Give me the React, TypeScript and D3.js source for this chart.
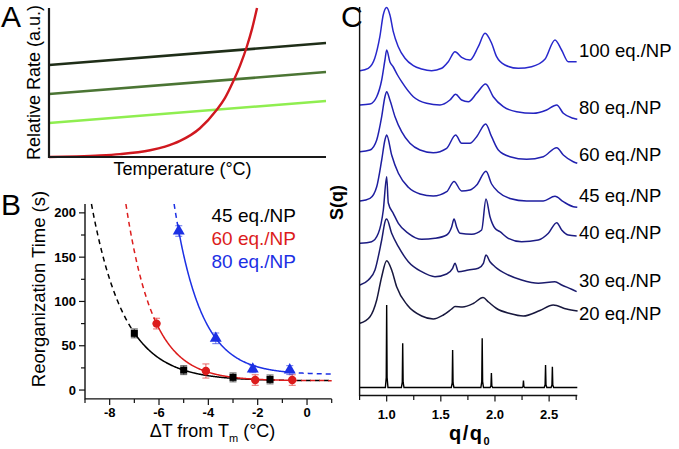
import React from 'react';
import * as d3 from 'd3';

const FONT = "Arial, 'Liberation Sans', Helvetica, sans-serif";

// ---------- Panel A (schematic) ----------
const rateLineStart = [6.17, 4.23, 2.28];
const rateLineEnd = [7.65, 5.7, 3.76];
const rateLineColors = ['#1f2e18', '#4b7534', '#8fee50'];
const redCurveT = [0, 1, 1.84, 2.56, 3.65, 4.19, 4.73, 5.45, 6.05, 6.35, 6.64, 6.9, 7.14, 7.33, 7.51];
const redCurveRate = [0, 0.04, 0.1, 0.19, 0.45, 0.7, 1.08, 1.93, 3.15, 3.95, 5.03, 6.15, 7.4, 8.6, 10];

// ---------- Panel B ----------
const bLabels = ['45 eq./NP', '60 eq./NP', '80 eq./NP'];
const bColors = ['#000000', '#dc1c1c', '#1c30e4'];
const bX = [
  [-7, -5, -3, -1.5],
  [-6.1, -4.1, -2.1, -0.6],
  [-5.2, -3.7, -2.2, -0.7],
];
const bY = [
  [64, 22.5, 14.3, 12],
  [75, 21.5, 11.3, 11.3],
  [179.5, 58.4, 23.7, 22.6],
];
const bErr = [
  [5, 5, 5, 5],
  [6, 8, 6, 6],
  [6, 6, 4, 5],
];
// exponential-decay fit parameters: y = offset + amp * exp(-(x - x0) / tau)
const fitOffset = [10.5, 10.5, 17.5];
const fitAmp = [54, 64.5, 162];
const fitX0 = [-7, -6.1, -5.2];
const fitTau = [1.33, 1.1, 1.09];
const fitSolidStart = [-7, -6.1, -5.2];
const fitSolidEnd = [-1.5, -0.6, -0.7];
const bXTicks = [-9, -8, -7, -6, -5, -4, -3, -2, -1, 0, 1];
const bXLabels = [-8, -6, -4, -2, 0];
const bYTicks = [0, 25, 50, 75, 100, 125, 150, 175, 200];
const bYLabels = [0, 50, 100, 150, 200];

// ---------- Panel C ----------
const cLabels = ['100 eq./NP', '80 eq./NP', '60 eq./NP', '45 eq./NP', '40 eq./NP', '30 eq./NP', '20 eq./NP'];
const cColors = ['#2828cc', '#2424c0', '#2121b0', '#1e1ea0', '#1c1c84', '#1b1b6c', '#18183e'];
const curve100: [number, number][] = [[0.753, 32.63], [0.83, 32.87], [0.89, 33.87], [0.937, 36.03], [0.968, 38.2], [1.0, 38.95], [1.03, 38.2], [1.061, 36.53], [1.107, 35.03], [1.169, 33.87], [1.246, 33.13], [1.323, 32.8], [1.415, 32.63], [1.508, 32.87], [1.569, 33.53], [1.631, 34.53], [1.692, 33.97], [1.769, 33.7], [1.846, 35.03], [1.908, 36.37], [1.969, 35.37], [2.015, 34.03], [2.092, 33.2], [2.215, 32.87], [2.338, 33.03], [2.461, 33.77], [2.554, 35.7], [2.615, 34.7], [2.677, 33.53], [2.754, 33.53]];
const curve80: [number, number][] = [[0.753, 29.2], [0.846, 29.3], [0.908, 30.03], [0.954, 31.7], [0.984, 33.7], [1.0, 34.7], [1.03, 33.5], [1.061, 33.0], [1.1, 32.2], [1.138, 31.53], [1.246, 30.03], [1.369, 29.37], [1.492, 29.2], [1.584, 29.7], [1.637, 30.27], [1.692, 29.7], [1.754, 29.53], [1.831, 30.37], [1.914, 31.3], [1.984, 30.03], [2.077, 29.03], [2.2, 28.53], [2.354, 28.37], [2.477, 28.7], [2.57, 29.2], [2.631, 28.37], [2.723, 27.87], [2.76, 27.77]];
const curve60: [number, number][] = [[0.753, 24.53], [0.846, 24.7], [0.908, 25.7], [0.954, 28.03], [0.984, 30.03], [1.0, 30.53], [1.03, 29.7], [1.077, 28.03], [1.138, 26.53], [1.215, 25.37], [1.308, 24.7], [1.43, 24.43], [1.554, 24.87], [1.637, 26.2], [1.692, 25.37], [1.769, 25.37], [1.831, 26.03], [1.914, 27.3], [1.969, 26.03], [2.031, 24.7], [2.138, 24.03], [2.292, 23.77], [2.446, 24.03], [2.57, 24.93], [2.631, 24.2], [2.723, 23.53], [2.76, 23.37]];
const curve45: [number, number][] = [[0.753, 19.6], [0.846, 19.87], [0.908, 21.03], [0.954, 23.7], [0.984, 25.7], [1.0, 26.2], [1.046, 24.2], [1.108, 22.37], [1.2, 20.97], [1.308, 20.3], [1.43, 20.1], [1.554, 20.53], [1.622, 21.55], [1.692, 20.6], [1.769, 20.7], [1.831, 21.2], [1.917, 22.58], [1.969, 21.3], [2.031, 20.5], [2.138, 19.85], [2.292, 19.6], [2.446, 19.6], [2.554, 20.07], [2.631, 19.53], [2.723, 19.03], [2.76, 18.97]];
const curve40: [number, number][] = [[0.753, 15.37], [0.861, 15.53], [0.923, 16.37], [0.969, 18.7], [1.0, 22.03], [1.015, 19.4], [1.061, 18.37], [1.108, 17.37], [1.2, 16.37], [1.323, 15.77], [1.446, 15.87], [1.554, 16.2], [1.6, 17.0], [1.622, 17.8], [1.646, 17.0], [1.677, 16.37], [1.785, 16.27], [1.877, 16.7], [1.917, 19.8], [1.954, 18.03], [2.0, 16.87], [2.046, 16.53], [2.123, 15.87], [2.246, 15.53], [2.4, 15.7], [2.493, 16.37], [2.57, 17.43], [2.616, 16.7], [2.677, 16.2], [2.754, 16.1]];
const curve30: [number, number][] = [[0.753, 11.2], [0.831, 11.7], [0.892, 12.7], [0.954, 15.7], [0.99, 17.7], [1.0, 17.8], [1.046, 16.37], [1.108, 15.03], [1.2, 13.53], [1.323, 12.53], [1.446, 12.03], [1.554, 12.3], [1.609, 12.87], [1.631, 13.37], [1.662, 12.53], [1.754, 12.7], [1.846, 12.87], [1.893, 13.37], [1.917, 14.2], [1.954, 13.53], [2.0, 13.03], [2.123, 12.2], [2.246, 11.7], [2.4, 11.37], [2.554, 11.53], [2.616, 11.2], [2.708, 10.77], [2.754, 10.53]];
const curve20: [number, number][] = [[0.753, 7.37], [0.846, 8.03], [0.908, 9.7], [0.954, 12.03], [1.0, 13.63], [1.046, 12.7], [1.092, 11.03], [1.19, 9.2], [1.323, 8.1], [1.43, 7.8], [1.523, 8.2], [1.6, 8.8], [1.631, 9.05], [1.7, 9.0], [1.8, 9.35], [1.89, 9.95], [1.94, 9.5], [2.015, 8.85], [2.138, 8.35], [2.261, 8.1], [2.415, 8.65], [2.538, 9.2], [2.661, 8.8], [2.763, 8.6]];
const cCurves = [curve100, curve80, curve60, curve45, curve40, curve30, curve20];
const stickBase = 0.95;
const stickQ = [1.0, 1.148, 1.609, 1.882, 1.967, 2.263, 2.467, 2.53];
const stickH = [8.25, 4.42, 3.75, 4.92, 1.45, 0.7, 2.25, 2.08];
const cXTicks = [0.75, 1.0, 1.25, 1.5, 1.75, 2.0, 2.25, 2.5, 2.75];
const cXLabels = ['1.0', '1.5', '2.0', '2.5'];

export default function App() {
  // Panel A scales
  const xA = d3.scaleLinear().domain([0, 10]).range([49, 326]);
  const yA = d3.scaleLinear().domain([0, 10]).range([157, 8]);
  const redLine = d3
    .line<number>()
    .x((_, i) => xA(redCurveT[i]))
    .y((d) => yA(d))
    .curve(d3.curveMonotoneX);

  // Panel B scales
  const xB = d3.scaleLinear().domain([-9, 1]).range([85, 331.7]);
  const yB = d3.scaleLinear().domain([-10, 210]).range([398.9, 204]);
  const lineB = d3
    .line<[number, number]>()
    .x((d) => xB(d[0]))
    .y((d) => yB(d[1]));
  const fitY = (i: number, x: number) => fitOffset[i] + fitAmp[i] * Math.exp(-(x - fitX0[i]) / fitTau[i]);
  const seg = (i: number, a: number, b: number): [number, number][] => {
    const xs = d3.range(a, b, 0.02).concat([b]);
    return xs.map((x) => [x, fitY(i, x)] as [number, number]);
  };

  // Panel C scales
  const xC = d3.scaleLinear().domain([0.75, 2.75]).range([359.6, 576.2]);
  const yC = d3.scaleLinear().domain([0, 39]).range([397, 7]);
  const lineC = d3
    .line<[number, number]>()
    .x((d) => xC(d[0]))
    .y((d) => yC(d[1]))
    .curve(d3.curveMonotoneX);
  const stickPts: [number, number][] = [[0.753, stickBase]];
  stickQ.forEach((q, i) => {
    const h = stickH[i];
    stickPts.push([q - 0.012, stickBase]);
    stickPts.push([q - 0.004, stickBase + 0.12 * h]);
    stickPts.push([q, stickBase + h]);
    stickPts.push([q + 0.004, stickBase + 0.12 * h]);
    stickPts.push([q + 0.012, stickBase]);
  });
  stickPts.push([2.76, stickBase]);
  const stickLine = d3
    .line<[number, number]>()
    .x((d) => xC(d[0]))
    .y((d) => yC(d[1]));
  const cAxisY = yC(0.15);

  const labelBaselines = [56.5, 114, 161, 201.5, 239, 287, 320];

  const symbolFor = (i: number) => {
    if (i === 0) return d3.symbol(d3.symbolSquare, 50)();
    if (i === 1) return d3.symbol(d3.symbolCircle, 55)();
    return d3.symbol(d3.symbolTriangle, 62)();
  };

  return (
    <svg
      width={679}
      height={449}
      style={{ position: 'absolute', left: 0, top: 0, background: '#fff' }}
      fontFamily={FONT}
    >
      <rect x={0} y={0} width={679} height={449} fill="#fff" />

      {/* ---------------- Panel A ---------------- */}
      <text x={1} y={26.5} fontSize={30} fill="#000">A</text>
      {rateLineStart.map((s, i) => (
        <line
          key={i}
          x1={xA(0)}
          y1={yA(s)}
          x2={xA(10)}
          y2={yA(rateLineEnd[i])}
          stroke={rateLineColors[i]}
          strokeWidth={2.6}
        />
      ))}
      <path d={redLine(redCurveRate) || ''} fill="none" stroke="#d0181f" strokeWidth={2.4} />
      <path d={`M${xA(0)},${yA(10)}V${yA(0)}H${xA(10)}`} fill="none" stroke="#1a1a1a" strokeWidth={2.2} />
      <text x={182.5} y={175} fontSize={18} textAnchor="middle" fill="#000">Temperature (°C)</text>
      <text transform="translate(40,82.5) rotate(-90)" fontSize={18} textAnchor="middle" fill="#000">
        Relative Rate (a.u.)
      </text>

      {/* ---------------- Panel B ---------------- */}
      <text x={1} y={215} fontSize={30} fill="#000">B</text>
      {/* fits */}
      {bLabels.map((_, i) => {
        const xTop = fitX0[i] - fitTau[i] * Math.log((210 - fitOffset[i]) / fitAmp[i]);
        return (
          <g key={i} fill="none" stroke={bColors[i]} strokeWidth={1.5}>
            <path d={lineB(seg(i, xTop, fitSolidStart[i])) || ''} strokeDasharray="5,4" />
            <path d={lineB(seg(i, fitSolidStart[i], fitSolidEnd[i])) || ''} />
            <path d={lineB(seg(i, fitSolidEnd[i], 1)) || ''} strokeDasharray="5,4" />
          </g>
        );
      })}
      {/* error bars + markers */}
      {bLabels.map((_, i) => (
        <g key={i}>
          {bX[i].map((x, j) => {
            const cx = xB(x);
            const y1 = yB(bY[i][j] - bErr[i][j]);
            const y2 = yB(bY[i][j] + bErr[i][j]);
            return (
              <g key={j} stroke={bColors[i]} strokeOpacity={0.55} strokeWidth={1.2}>
                <line x1={cx} x2={cx} y1={y1} y2={y2} />
                <line x1={cx - 3.5} x2={cx + 3.5} y1={y1} y2={y1} />
                <line x1={cx - 3.5} x2={cx + 3.5} y1={y2} y2={y2} />
              </g>
            );
          })}
          {bX[i].map((x, j) => (
            <path
              key={'m' + j}
              d={symbolFor(i) || ''}
              transform={`translate(${xB(x)},${yB(bY[i][j])})`}
              fill={bColors[i]}
            />
          ))}
        </g>
      ))}
      {/* axes */}
      <path d={`M${xB(-9)},${yB(210)}V${yB(-10)}H${xB(1)}`} fill="none" stroke="#111" strokeWidth={1.4} />
      {bXTicks.map((t) => {
        const major = bXLabels.indexOf(t) >= 0;
        return (
          <line key={t} x1={xB(t)} x2={xB(t)} y1={yB(-10)} y2={yB(-10) + (major ? 6 : 4)} stroke="#111" strokeWidth={1.2} />
        );
      })}
      {bXLabels.map((t) => (
        <text key={'xl' + t} x={xB(t)} y={416.5} fontSize={13} fontWeight="bold" textAnchor="middle" fill="#000">
          {t}
        </text>
      ))}
      {bYTicks.map((t) => {
        const major = bYLabels.indexOf(t) >= 0;
        return (
          <line key={t} x1={xB(-9)} x2={xB(-9) - (major ? 6 : 4)} y1={yB(t)} y2={yB(t)} stroke="#111" strokeWidth={1.2} />
        );
      })}
      {bYLabels.map((t) => (
        <text key={'yl' + t} x={76} y={yB(t) + 4.6} fontSize={13} fontWeight="bold" textAnchor="end" fill="#000">
          {t}
        </text>
      ))}
      <text transform="translate(45,289) rotate(-90)" fontSize={18.5} textAnchor="middle" fill="#000">
        Reorganization Time (s)
      </text>
      <text x={212.5} y={437} fontSize={18} textAnchor="middle" fill="#000">
        ΔT from T<tspan fontSize={11} dy={5}>m</tspan>
        <tspan dy={-5}> (°C)</tspan>
      </text>
      {bLabels.map((l, i) => (
        <text key={l} x={211.5} y={[221.7, 245, 267.7][i]} fontSize={19} fill={bColors[i]}>
          {l}
        </text>
      ))}

      {/* ---------------- Panel C ---------------- */}
      <text x={341} y={27} fontSize={30} fill="#000">C</text>
      {cCurves.map((c, i) => (
        <path key={i} d={lineC(c) || ''} fill="none" stroke={cColors[i]} strokeWidth={1.5} />
      ))}
      <path d={stickLine(stickPts) || ''} fill="none" stroke="#000" strokeWidth={1.4} />
      <path d={`M${xC(0.75)},${yC(39)}V${cAxisY}H${xC(2.76)}`} fill="none" stroke="#111" strokeWidth={1.4} />
      {cXTicks.map((t) => {
        const major = cXLabels.indexOf(t.toFixed(1)) >= 0 && Math.abs(t * 2 - Math.round(t * 2)) < 1e-6;
        return (
          <line key={t} x1={xC(t)} x2={xC(t)} y1={cAxisY} y2={cAxisY + (major ? 6 : 4.5)} stroke="#111" strokeWidth={1.2} />
        );
      })}
      {cXLabels.map((l) => (
        <text key={l} x={xC(+l)} y={418.5} fontSize={13} fontWeight="bold" textAnchor="middle" fill="#000">
          {l}
        </text>
      ))}
      <text x={470} y={440} fontSize={20} fontWeight="bold" textAnchor="middle" letterSpacing={1.5} fill="#000">
        q/q<tspan fontSize={11} dy={5}>0</tspan>
      </text>
      <text transform="translate(343,202.5) rotate(-90)" fontSize={18} fontWeight="bold" textAnchor="middle" fill="#000">
        S(q)
      </text>
      {cLabels.map((l, i) => (
        <text key={l} x={579} y={labelBaselines[i]} fontSize={18.5} fill="#000">
          {l}
        </text>
      ))}
    </svg>
  );
}
